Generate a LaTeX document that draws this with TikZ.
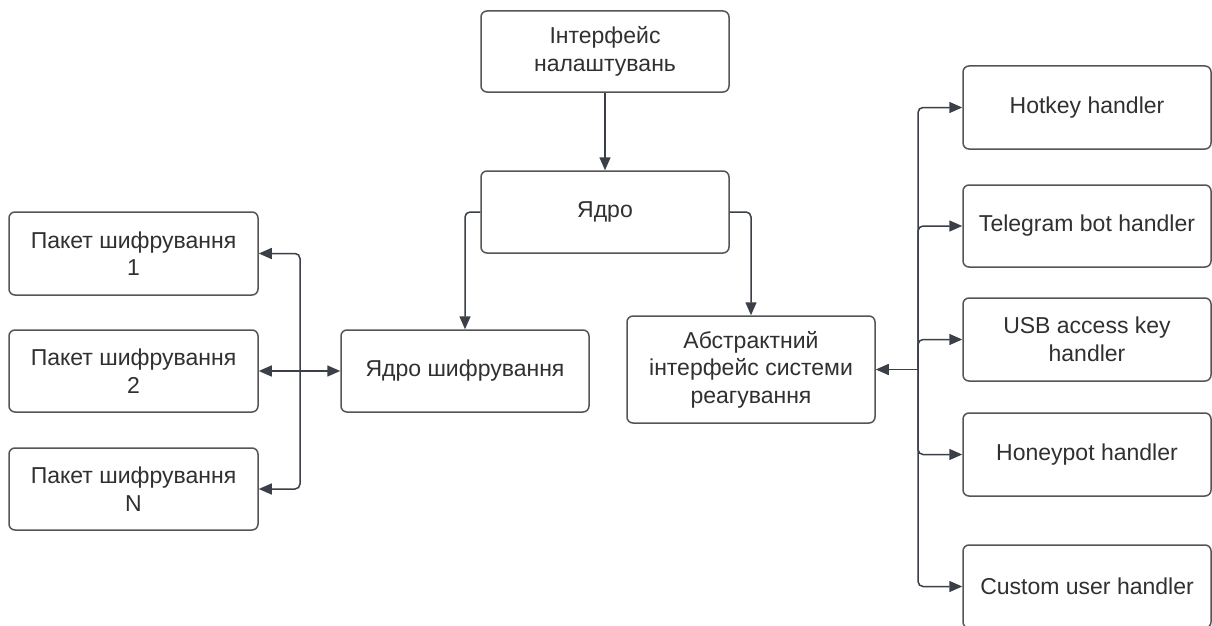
\documentclass[tikz,border=0pt]{standalone}
\usepackage{fontspec}
\setmainfont{Liberation Sans}
\usetikzlibrary{arrows.meta}
\definecolor{boxc}{HTML}{555555}
\definecolor{txtc}{HTML}{303030}
\definecolor{arrc}{HTML}{3A3F48}
\begin{document}
\begin{tikzpicture}[x=1pt,y=-1pt,
  box/.style={draw=boxc, line width=1.5pt, rounded corners=6pt, fill=white,
    text=txtc, font=\fontsize{23}{27.5}\selectfont, align=center, inner sep=0pt},
  conn/.style={draw=arrc, line width=1.5pt, rounded corners=5pt,
    -{Triangle[length=13pt,width=11pt]}},
  dconn/.style={draw=arrc, line width=1.5pt,
    {Triangle[length=13pt,width=11pt]}-{Triangle[length=13pt,width=11pt]}},
]
\useasboundingbox (0,0) rectangle (1212,626);
\fill[white] (0,0) rectangle (1212,626);

% top / centre
\node[box, minimum width=248pt, minimum height=81pt] (set) at (605,51.5) {Інтерфейс\\налаштувань};
\node[box, minimum width=248pt, minimum height=82pt] (core) at (605,212) {Ядро};
\node[box, minimum width=248pt, minimum height=82pt] (ek) at (465,371) {Ядро шифрування};
\node[box, minimum width=248pt, minimum height=107pt] (abs) at (751,369.5) {Абстрактний\\інтерфейс системи\\реагування};

% left packages
\node[box, minimum width=249pt, minimum height=83pt] (p1) at (133.5,253.5) {Пакет шифрування\\1};
\node[box, minimum width=249pt, minimum height=82pt] (p2) at (133.5,371) {Пакет шифрування\\2};
\node[box, minimum width=249pt, minimum height=82pt] (pN) at (133.5,489) {Пакет шифрування\\N};

% right handlers
\node[box, minimum width=248pt, minimum height=83pt] (h1) at (1087,107.5) {Hotkey handler};
\node[box, minimum width=248pt, minimum height=82pt] (h2) at (1087,226) {Telegram bot handler};
\node[box, minimum width=248pt, minimum height=83pt] (h3) at (1087,339.5) {USB access key\\handler};
\node[box, minimum width=248pt, minimum height=83pt] (h4) at (1087,454.5) {Honeypot handler};
\node[box, minimum width=248pt, minimum height=83pt] (h5) at (1087,586.5) {Custom user handler};

% junctions
\coordinate (jl) at (300,371);
\coordinate (jr) at (918,369.5);

% connectors
\draw[conn] (set.south) -- (core.north);
\draw[conn] (core.west) -| (ek.north);
\draw[conn] (core.east) -| (abs.north);

\draw[dconn] (p2.east) -- (ek.west);
\draw[conn] (jl) |- (p1.east);
\draw[conn] (jl) |- (pN.east);

\draw[conn] (jr) -- (abs.east);
\draw[conn] (jr) |- (h1.west);
\draw[conn] (jr) |- (h2.west);
\draw[conn] (jr) |- (h3.west);
\draw[conn] (jr) |- (h4.west);
\draw[conn] (jr) |- (h5.west);
\end{tikzpicture}
\end{document}
